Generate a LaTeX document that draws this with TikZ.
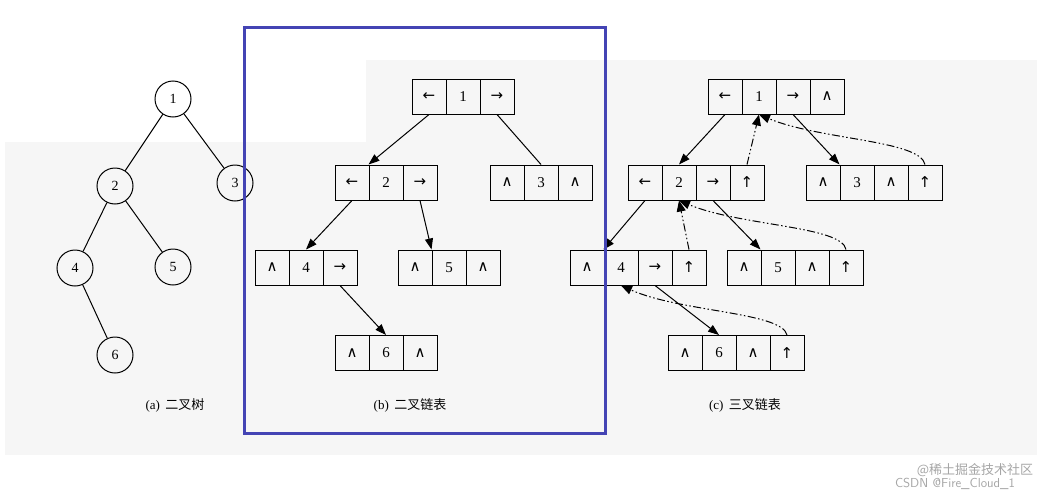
\documentclass[tikz,border=0pt]{standalone}
\usepackage{fontspec}
\setmainfont{Liberation Serif}
\newfontfamily\cjk{Noto Sans CJK SC}
\newfontfamily\sym{DejaVu Sans}
\usetikzlibrary{arrows.meta}
\definecolor{bg}{HTML}{F6F6F6}
\definecolor{frameblue}{HTML}{4444B4}
\tikzset{
  circnode/.style={circle,draw,line width=1pt,minimum size=36pt,inner sep=0pt,font=\fontsize{14}{14}\selectfont},
  cellbox/.style={rectangle,draw,line width=1pt,minimum width=34pt,minimum height=35pt,inner sep=0pt,font=\fontsize{15}{15}\selectfont},
  link/.style={line width=1pt,-{Triangle[length=11pt,width=8pt]}},
  plain/.style={line width=1pt},
  parent/.style={line width=1pt,dash pattern=on 8pt off 2.5pt on 1.5pt off 2.5pt on 1.5pt off 2.5pt,-{Triangle[length=11pt,width=9pt]}},
  caption/.style={font=\fontsize{13}{13}\selectfont},
  wm/.style={text=gray!70,font=\cjk\fontsize{13}{13}\selectfont}
}
\newcommand{\mkrow}[4]{% name, x0, ycenter, list
  \foreach \t [count=\i] in {#4} {
    \node[cellbox] (#1-\i) at ({#2+17+34*(\i-1)},#3) {\t};
  }
}
\newcommand{\La}{{\sym←}}
\newcommand{\Ra}{{\sym→}}
\newcommand{\Ua}{{\sym↑}}
\newcommand{\Nl}{{\sym∧}}
\begin{document}
\begin{tikzpicture}[x=1pt,y=-1pt]
\useasboundingbox (0,0) rectangle (1062,498);
\fill[white] (0,0) rectangle (1062,498);
\fill[bg] (5,142) rectangle (1037,455);
\fill[bg] (366,60) rectangle (1037,142);
% (a)
\node[circnode] (a1) at (173,99) {1};
\node[circnode] (a2) at (115,186) {2};
\node[circnode] (a3) at (235,183) {3};
\node[circnode] (a4) at (75,268) {4};
\node[circnode] (a5) at (173,267) {5};
\node[circnode] (a6) at (115,355) {6};
\draw[plain] (a1) -- (a2);
\draw[plain] (a1) -- (a3);
\draw[plain] (a2) -- (a4);
\draw[plain] (a2) -- (a5);
\draw[plain] (a4) -- (a6);
\node[caption] (ca) at (175,405) {(a)\, {\cjk 二叉树}};
% (b)
\mkrow{b1}{412}{96.5}{\La,1,\Ra}
\mkrow{b2}{335}{182.5}{\La,2,\Ra}
\mkrow{b3}{490}{182.5}{\Nl,3,\Nl}
\mkrow{b4}{255}{267.5}{\Nl,4,\Ra}
\mkrow{b5}{398}{267.5}{\Nl,5,\Nl}
\mkrow{b6}{335}{353}{\Nl,6,\Nl}
\draw[link] (b1-1.south) -- (b2-2.north west);
\draw[plain] (b1-3.south) -- (b3-2.north);
\draw[link] (b2-1.south) -- (b4-2.north);
\draw[link] (b2-3.south) -- (b5-2.north west);
\draw[link] (b4-3.south) -- (b6-2.north);
\node[caption] (cb) at (410,405) {(b)\, {\cjk 二叉链表}};
% (c)
\mkrow{c1}{708}{96.5}{\La,1,\Ra,\Nl}
\mkrow{c2}{628}{182.5}{\La,2,\Ra,\Ua}
\mkrow{c3}{806}{182.5}{\Nl,3,\Nl,\Ua}
\mkrow{c4}{570}{267.5}{\Nl,4,\Ra,\Ua}
\mkrow{c5}{727}{267.5}{\Nl,5,\Nl,\Ua}
\mkrow{c6}{668}{353}{\Nl,6,\Nl,\Ua}
\draw[link] (c1-1.south) -- (c2-2.north);
\draw[link] (c1-3.south) -- (c3-2.north west);
\draw[link] (c2-1.south) -- (c4-2.north west);
\draw[link] (c2-3.south) -- (c5-2.north west);
\draw[link] (c4-3.south) -- (c6-2.north);
\draw[parent] (c2-4.north) -- (c1-2.south);
\draw[parent] (c3-4.north) .. controls (920,140) and (820,140) .. (c1-2.south);
\draw[parent] (c4-4.north) -- (c2-2.south);
\draw[parent] (c5-4.north) .. controls (842,226) and (740,226) .. (c2-2.south);
\draw[parent] (c6-4.north) .. controls (782,312) and (680,312) .. (c4-2.south);
\node[caption] (cc) at (745,405) {(c)\, {\cjk 三叉链表}};
% watermark
\node[wm] (w1) at (975,470) {@稀土掘金技术社区};
\node[wm,font=\sffamily\fontsize{13}{13}\selectfont] (w2) at (955,484) {CSDN @Fire\_Cloud\_1};
% frame
\draw[frameblue,line width=3pt] (244,27) rectangle (605,433);
\end{tikzpicture}
\end{document}
